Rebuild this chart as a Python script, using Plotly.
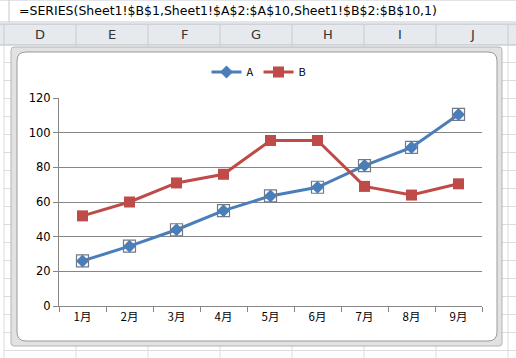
import plotly.graph_objects as go

months = ["1月", "2月", "3月", "4月", "5月", "6月", "7月", "8月", "9月"]
series_a = [26, 34.5, 44, 55, 63.5, 68.5, 81, 91.5, 110.5]
series_b = [52, 60, 71, 76, 95.5, 95.5, 69, 64, 70.5]
y_ticks = [0, 20, 40, 60, 80, 100, 120]
col_letters = ["D", "E", "F", "G", "H", "I", "J"]
formula = "=SERIES(Sheet1!$B$1,Sheet1!$A$2:$A$10,Sheet1!$B$2:$B$10,1)"

W, H = 516, 358
ML, MR, MT, MB = 59, 34, 98, 52
PW, PH = W - ML - MR, H - MT - MB

def px(x):
    return (x - ML) / PW

def py(y):
    return 1 - (y - MT) / PH

BLUE = "#4A7EBB"
RED = "#BE4B48"
GRID = "#868686"

shapes = []
# spreadsheet grid lines
for k in range(17):
    yy = 62.5 + 18 * k
    shapes.append(dict(type="line", xref="paper", yref="paper", x0=px(4), x1=px(516), y0=py(yy), y1=py(yy),
                       line=dict(color="#dadcdd", width=1), layer="below"))
col_bounds = [4, 76, 148, 220, 292, 364, 436, 508]
for xb in col_bounds:
    shapes.append(dict(type="line", xref="paper", yref="paper", x0=px(xb), x1=px(xb), y0=py(45), y1=py(358),
                       line=dict(color="#dadcdd", width=1), layer="below"))
# formula bar
shapes.append(dict(type="rect", xref="paper", yref="paper", x0=px(-2), x1=px(518), y0=py(0), y1=py(22),
                   fillcolor="#ffffff", line=dict(color="#c5c9cf", width=1), layer="below"))
shapes.append(dict(type="line", xref="paper", yref="paper", x0=px(9), x1=px(9), y0=py(0), y1=py(22),
                   line=dict(color="#c5c9cf", width=1), layer="below"))
# column header band
shapes.append(dict(type="rect", xref="paper", yref="paper", x0=px(-2), x1=px(518), y0=py(24), y1=py(45),
                   fillcolor="#e6e9ee", line=dict(color="#b8bcc2", width=1), layer="below"))
for xb in col_bounds:
    shapes.append(dict(type="line", xref="paper", yref="paper", x0=px(xb), x1=px(xb), y0=py(24), y1=py(45),
                       line=dict(color="#c8ccd2", width=1), layer="below"))

def rounded(x0, y0, x1, y1, r):
    X0, X1 = px(x0), px(x1)
    Y0, Y1 = py(y0), py(y1)
    rx, ry = r / PW, r / PH
    return (f"M {X0+rx},{Y0} L {X1-rx},{Y0} Q {X1},{Y0} {X1},{Y0-ry} "
            f"L {X1},{Y1+ry} Q {X1},{Y1} {X1-rx},{Y1} L {X0+rx},{Y1} "
            f"Q {X0},{Y1} {X0},{Y1+ry} L {X0},{Y0-ry} Q {X0},{Y0} {X0+rx},{Y0} Z")

# chart frame (selection border)
shapes.append(dict(type="path", xref="paper", yref="paper", path=rounded(11, 47, 502, 346, 3),
                   fillcolor="#e2e2e2", line=dict(color="#b4b4b4", width=1), layer="below"))
shapes.append(dict(type="path", xref="paper", yref="paper", path=rounded(17, 52, 497, 341, 9),
                   fillcolor="#ffffff", line=dict(color="#9a9a9a", width=1), layer="below"))

annotations = [
    dict(text=formula, x=px(17), y=py(11), xref="paper", yref="paper", xanchor="left", yanchor="middle",
         showarrow=False, font=dict(family="DejaVu Sans", size=12.5, color="#000000")),
]
for i, c in enumerate(col_letters):
    xc = (col_bounds[i] + col_bounds[i + 1]) / 2
    annotations.append(dict(text=c, x=px(xc), y=py(35), xref="paper", yref="paper", xanchor="center",
                            yanchor="middle", showarrow=False,
                            font=dict(family="DejaVu Sans", size=13, color="#333333")))

fig = go.Figure()
fig.add_trace(go.Scatter(x=months, y=series_a, name="A", mode="lines+markers",
                         line=dict(color=BLUE, width=3),
                         marker=dict(symbol="diamond", size=10, color=BLUE)))
fig.add_trace(go.Scatter(x=months, y=series_b, name="B", mode="lines+markers",
                         line=dict(color=RED, width=3),
                         marker=dict(symbol="square", size=11, color=RED)))
fig.add_trace(go.Scatter(x=months, y=series_a, mode="markers", showlegend=False, hoverinfo="skip",
                         marker=dict(symbol="square-open", size=12, color="#6f7a86", line=dict(width=1.2))))

fig.update_layout(
    width=W, height=H,
    margin=dict(l=ML, r=MR, t=MT, b=MB),
    paper_bgcolor="#ffffff", plot_bgcolor="rgba(0,0,0,0)",
    shapes=shapes, annotations=annotations,
    font=dict(family="Noto Sans CJK JP", size=11, color="#000000"),
    legend=dict(orientation="h", x=px(259), y=py(72), xanchor="center", yanchor="middle",
                bgcolor="rgba(0,0,0,0)", itemwidth=30, font=dict(size=11)),
    xaxis=dict(type="category", categoryorder="array", categoryarray=months,
               showgrid=False, showline=True, linecolor=GRID, linewidth=1,
               ticks="outside", ticklen=5, tickcolor=GRID, tickson="boundaries",
               range=[-0.5, 8.5], zeroline=False,
               tickfont=dict(family="Noto Sans CJK JP", size=11.5)),
    yaxis=dict(range=[0, 120], tickvals=y_ticks, showgrid=True, gridcolor=GRID, gridwidth=1,
               showline=True, linecolor=GRID, linewidth=1, ticks="outside", ticklen=5, tickcolor=GRID,
               zeroline=False, tickfont=dict(family="DejaVu Sans", size=11.5)),
)

fig.write_html("out.html", config={"displayModeBar": False},
               post_script="document.body.style.margin='0';document.body.style.overflow='hidden';")
